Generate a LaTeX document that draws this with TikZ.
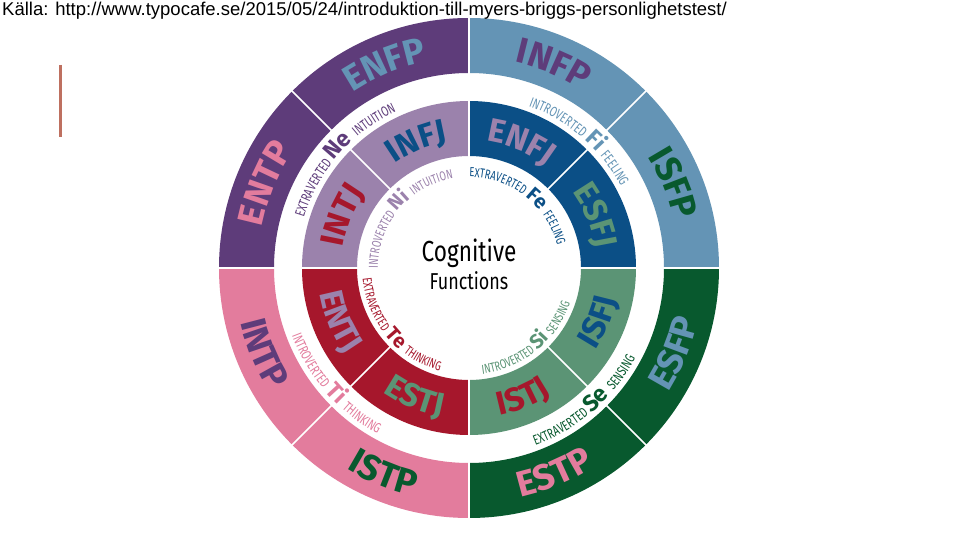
\documentclass[tikz,border=0pt]{standalone}
\usepackage{fontspec}
\setmainfont{Fira Sans}
\newfontfamily\hdrfont{Liberation Sans}
\newfontfamily\condfont[FakeStretch=0.78]{Fira Sans}
\newfontfamily\smallcond[FakeStretch=0.72]{Fira Sans}
\usetikzlibrary{decorations.text}

\definecolor{dpurple}{RGB}{94,60,122}
\definecolor{lpurple}{RGB}{155,130,172}
\definecolor{sblue}{RGB}{100,148,181}
\definecolor{dblue}{RGB}{11,79,134}
\definecolor{pinkc}{RGB}{227,124,157}
\definecolor{dred}{RGB}{166,23,44}
\definecolor{dgreen}{RGB}{8,89,46}
\definecolor{mgreen}{RGB}{91,148,117}
\definecolor{accent}{RGB}{190,112,96}

\newcommand\outerlab{\normalfont\bfseries\fontsize{36}{36}\selectfont}
\newcommand\innerlab{\normalfont\bfseries\fontsize{33}{33}\selectfont}
\newcommand\smallA{\smallcond\mdseries\fontsize{14}{14}\selectfont}
\newcommand\bigA{\normalfont\bfseries\fontsize{23}{23}\selectfont}
\newcommand\smallB{\smallcond\mdseries\fontsize{13}{13}\selectfont}
\newcommand\bigB{\normalfont\bfseries\fontsize{20}{20}\selectfont}

% annular sector: start, end, outer r, inner r, colour
\newcommand\ringsector[5]{\fill[#5] (#1:#3pt) arc[start angle=#1,end angle=#2,radius=#3pt] -- (#2:#4pt) arc[start angle=#2,end angle=#1,radius=#4pt] -- cycle;}
% text on arc, tops outward (clockwise)
\newcommand\toparc[4]{\path[decorate,decoration={text along path,text color=#3,text align=center,text={#4}}] (#1+40:#2pt) arc[start angle=#1+40,end angle=#1-40,radius=#2pt];}
% text on arc, tops inward (counter-clockwise)
\newcommand\botarc[4]{\path[decorate,decoration={text along path,text color=#3,text align=center,text={#4}}] (#1-40:#2pt) arc[start angle=#1-40,end angle=#1+40,radius=#2pt];}

\begin{document}
\begin{tikzpicture}[x=1pt,y=1pt,
  divider/.style={white,line width=2pt},
  subdivider/.style={white,line width=1.5pt}]
\useasboundingbox (-469,-272) rectangle (491,268);
\fill[white] (-469,-272) rectangle (491,268);

% outer ring
\ringsector{90}{180}{250}{195}{dpurple}
\ringsector{0}{90}{250}{195}{sblue}
\ringsector{180}{270}{250}{195}{pinkc}
\ringsector{270}{360}{250}{195}{dgreen}
% inner ring
\ringsector{90}{180}{167}{112}{lpurple}
\ringsector{0}{90}{167}{112}{dblue}
\ringsector{180}{270}{167}{112}{dred}
\ringsector{270}{360}{167}{112}{mgreen}

% dividers
\foreach \a in {0,90,180,270} \draw[divider] (\a:108pt) -- (\a:254pt);
\foreach \a in {45,135,225,315} \draw[subdivider] (\a:108pt) -- (\a:254pt);

% outer ring labels
\toparc{112.5}{211}{sblue}{|\outerlab|ENFP}
\toparc{157.5}{211}{pinkc}{|\outerlab|ENTP}
\toparc{67.5}{211}{dpurple}{|\outerlab|INFP}
\toparc{22.5}{211}{dgreen}{|\outerlab|ISFP}
\botarc{202.5}{235}{dpurple}{|\outerlab|INTP}
\botarc{247.5}{235}{dgreen}{|\outerlab|ISTP}
\botarc{292.5}{235}{pinkc}{|\outerlab|ESTP}
\botarc{337.5}{235}{sblue}{|\outerlab|ESFP}

% inner ring labels
\toparc{112.5}{128}{dblue}{|\innerlab|INFJ}
\toparc{157.5}{128}{dred}{|\innerlab|INTJ}
\toparc{67.5}{128}{lpurple}{|\innerlab|ENFJ}
\toparc{22.5}{128}{mgreen}{|\innerlab|ESFJ}
\botarc{202.5}{151}{lpurple}{|\innerlab|ENTJ}
\botarc{247.5}{151}{mgreen}{|\innerlab|ESTJ}
\botarc{292.5}{151}{dred}{|\innerlab|ISTJ}
\botarc{337.5}{151}{dblue}{|\innerlab|ISFJ}

% function texts between rings
\toparc{139}{172.5}{dpurple}{|\smallA|EXTRAVERTED |\bigA|Ne |\smallA|INTUITION}
\toparc{49}{172.5}{sblue}{|\smallA|INTROVERTED |\bigA|Fi |\smallA|FEELING}
\botarc{221}{189.5}{pinkc}{|\smallA|INTROVERTED |\bigA|Ti |\smallA|THINKING}
\botarc{311}{189.5}{dgreen}{|\smallA|EXTRAVERTED |\bigA|Se |\smallA|SENSING}

% function texts inside inner ring
\toparc{140}{91}{lpurple}{|\smallB|INTROVERTED |\bigB|Ni |\smallB|INTUITION}
\toparc{52}{91}{dblue}{|\smallB|EXTRAVERTED |\bigB|Fe |\smallB|FEELING}
\botarc{220}{107}{dred}{|\smallB|EXTRAVERTED |\bigB|Te |\smallB|THINKING}
\botarc{309}{107}{mgreen}{|\smallB|INTROVERTED |\bigB|Si |\smallB|SENSING}

% centre title
\node[font=\condfont\fontsize{29}{29}\selectfont,anchor=base,inner sep=0pt] (cog) at (0,6) {Cognitive};
\node[font=\condfont\fontsize{23}{23}\selectfont,anchor=base,inner sep=0pt] (fun) at (0,-22) {Functions};

% source line
\node[font=\hdrfont\fontsize{18.5}{20}\selectfont,anchor=base west,inner sep=0pt] (src) at (-467,252.5) {Källa: http://www.typocafe.se/2015/05/24/introduktion-till-myers-briggs-personlighetstest/};

% accent bar
\coordinate (bartop) at (-408.5,203);
\coordinate (barbot) at (-408.5,131);
\draw[accent,line width=3pt] (bartop) -- (barbot);
\end{tikzpicture}
\end{document}
